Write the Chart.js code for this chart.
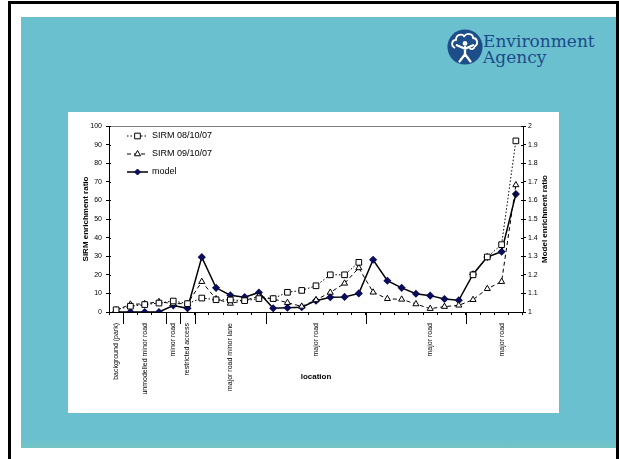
<!DOCTYPE html>
<html>
<head>
<meta charset="utf-8">
<script src="https://cdn.jsdelivr.net/npm/chart.js@4/dist/chart.umd.min.js"></script>
<style>
  html, body { margin: 0; padding: 0; background: #fff; }
  #page { position: relative; width: 619px; height: 459px; overflow: hidden; background: #fff; }
  #frame { position: absolute; left: 8px; top: 1px; width: 611px; height: 480px; border: 3px solid #000; box-sizing: border-box; }
  #slide { position: absolute; left: 21px; top: 17px; width: 595px; height: 431px; background: #6bc0d0; }
  #slide .foot { position: absolute; left: 0; right: 0; bottom: 0; height: 10px; background: linear-gradient(#6bc0d0, #74c4c4); }
  #box { position: absolute; left: 68px; top: 112px; width: 491px; height: 301px; background: #fff; }
  #logo { position: absolute; left: 447px; top: 28px; }
  #brand { position: absolute; left: 483px; top: 33px; font: 17px "DejaVu Serif", serif; line-height: 16px; color: #1b4b88; }
</style>
</head>
<body>
<div id="page">
  <div id="frame"></div>
  <div id="slide"><div class="foot"></div></div>
  <svg id="logo" width="36" height="38" viewBox="0 0 40 42">
    <circle cx="20" cy="21" r="19.5" fill="#1d4e89"/>
    <path d="M9 22 C4 20 5 13 10 13 C10 7 17 6 19 9 C22 5 29 6 29 11 C34 11 35 18 31 20 C30 24 26 24 25 22"
          fill="none" stroke="#fff" stroke-width="2"/>
    <circle cx="20" cy="17" r="2.6" fill="#fff"/>
    <path d="M11 19 L20 23 L29 19 M20 21 L20 29 M20 29 L14 37 M20 29 L26 37" fill="none" stroke="#fff" stroke-width="2.6" stroke-linecap="round"/>
  </svg>
  <div id="brand">Environment<br>Agency</div>
  <div id="box"><canvas id="lineChart" width="491" height="301"></canvas></div>
</div>
<script>
// location names, shown only at the middle of each stretch of road
const locations = ['background (park)', '', 'unmodelled minor road', '', 'minor road', 'restricted access',
  '', '', 'major road minor lane', '', '', '', '', '', 'major road', '', '', '', '', '', '', '', 'major road',
  '', '', '', '', 'major road', ''];

// index after which a long separator tick is drawn under the axis
const groupEnds = [1, 4, 5, 6, 11, 18, 25];

const sirm081007 = [1.2, 3.1, 4.0, 4.8, 5.9, 4.5, 7.5, 6.6, 6.5, 6.1, 7.2, 7.2, 10.6, 11.6, 14.1, 20.0, 20.0, 26.7,
  null, null, null, null, null, null, null, 20.0, 29.6, 36.2, 92.0];
const sirm091007 = [1.0, 4.1, 4.4, 5.5, 4.5, 4.5, 16.3, 7.0, 4.6, 6.2, 8.5, 7.0, 5.0, 3.0, 6.5, 10.5, 15.4, 23.7,
  10.6, 7.1, 6.8, 4.3, 1.8, 2.9, 3.6, 6.6, 12.5, 16.3, 68.3];
const modelRatio = [1.0, 1.0, 1.0, 1.0, 1.035, 1.02, 1.295, 1.13, 1.09, 1.08, 1.105, 1.02, 1.023, 1.026, 1.061, 1.079,
  1.081, 1.10, 1.281, 1.168, 1.13, 1.098, 1.088, 1.07, 1.063, 1.203, 1.296, 1.324, 1.634];

const sirmTicks = { min: 0, max: 100, step: 10 };
const modelTicks = { min: 1, max: 2, step: 0.1 };

const font = 'Arial, "Liberation Sans", sans-serif';
const navy = '#0c0c5c';

function marker(ctx, style, x, y, r, fill, stroke) {
  ctx.beginPath();
  if (style === 'rect') {
    const h = r * Math.SQRT1_2;
    ctx.rect(x - h, y - h, 2 * h, 2 * h);
  } else if (style === 'triangle') {
    ctx.moveTo(x, y - r);
    ctx.lineTo(x + r * 0.866, y + r * 0.5);
    ctx.lineTo(x - r * 0.866, y + r * 0.5);
    ctx.closePath();
  } else {
    ctx.moveTo(x, y - r);
    ctx.lineTo(x + r, y);
    ctx.lineTo(x, y + r);
    ctx.lineTo(x - r, y);
    ctx.closePath();
  }
  ctx.fillStyle = fill;
  ctx.fill();
  ctx.setLineDash([]);
  ctx.lineWidth = 1;
  ctx.strokeStyle = stroke;
  ctx.stroke();
}

// legend, axis titles, plot top line, inner tick stubs and the long group ticks
const extras = {
  id: 'extras',
  afterDraw(chart) {
    const ctx = chart.ctx;
    const area = chart.chartArea;
    const x = chart.scales.x;
    ctx.save();

    ctx.strokeStyle = '#808080';
    ctx.lineWidth = 1;
    ctx.beginPath();
    ctx.moveTo(area.left, Math.round(area.top) + 0.5);
    ctx.lineTo(area.right, Math.round(area.top) + 0.5);
    ctx.stroke();

    ctx.strokeStyle = '#000';
    groupEnds.forEach(i => {
      const px = Math.round((x.getPixelForValue(i - 1) + x.getPixelForValue(i)) / 2) + 0.5;
      ctx.beginPath();
      ctx.moveTo(px, area.bottom);
      ctx.lineTo(px, area.bottom + 12);
      ctx.stroke();
    });
    ['y', 'y1'].forEach(id => {
      const s = chart.scales[id];
      const edge = id === 'y' ? area.left : area.right;
      const dir = id === 'y' ? 1 : -1;
      s.ticks.forEach(t => {
        const py = Math.round(s.getPixelForValue(t.value)) + 0.5;
        ctx.beginPath();
        ctx.moveTo(edge, py);
        ctx.lineTo(edge + dir * 2, py);
        ctx.stroke();
      });
    });

    ctx.fillStyle = '#000';
    ctx.font = 'bold 8px ' + font;
    ctx.textAlign = 'center';
    ctx.textBaseline = 'middle';
    ctx.fillText('location', (area.left + area.right) / 2, 265);
    ctx.save();
    ctx.translate(18, (area.top + area.bottom) / 2);
    ctx.rotate(-Math.PI / 2);
    ctx.fillText('SIRM enrichment ratio', 0, 0);
    ctx.restore();
    ctx.save();
    ctx.translate(477, (area.top + area.bottom) / 2);
    ctx.rotate(-Math.PI / 2);
    ctx.fillText('Model enrichment ratio', 0, 0);
    ctx.restore();

    ctx.font = '9px ' + font;
    ctx.textAlign = 'left';
    chart.data.datasets.forEach((ds, i) => {
      const y = 24 + i * 18;
      ctx.strokeStyle = ds.borderColor;
      ctx.lineWidth = ds.borderWidth;
      ctx.setLineDash(ds.borderDash || []);
      ctx.beginPath();
      ctx.moveTo(59, y);
      ctx.lineTo(80, y);
      ctx.stroke();
      marker(ctx, ds.pointStyle, 69.5, y, ds.pointRadius, ds.pointBackgroundColor, ds.pointBorderColor);
      ctx.fillStyle = '#000';
      ctx.fillText(ds.label, 84, y);
    });
    ctx.restore();
  }
};

const chat = document.getElementById('lineChart');
const lineChart = new Chart(chat, {
  type: 'line',
  data: {
    labels: locations,
    datasets: [{
      label: 'SIRM 08/10/07',
      data: sirm081007,
      yAxisID: 'y',
      borderColor: '#000',
      borderWidth: 1,
      borderDash: [1.5, 2],
      pointStyle: 'rect',
      pointRadius: 4,
      pointBackgroundColor: '#fff',
      pointBorderColor: '#000',
      pointBorderWidth: 1,
      spanGaps: false
    }, {
      label: 'SIRM 09/10/07',
      data: sirm091007,
      yAxisID: 'y',
      borderColor: '#000',
      borderWidth: 1,
      borderDash: [4, 3],
      pointStyle: 'triangle',
      pointRadius: 3.5,
      pointBackgroundColor: '#fff',
      pointBorderColor: '#000',
      pointBorderWidth: 1
    }, {
      label: 'model',
      data: modelRatio,
      yAxisID: 'y1',
      borderColor: '#000',
      borderWidth: 1.5,
      pointStyle: 'rectRot',
      pointRadius: 3,
      pointBackgroundColor: navy,
      pointBorderColor: navy
    }]
  },
  options: {
    responsive: false,
    animation: false,
    events: [],
    layout: { padding: { top: 14, left: 0, right: 0, bottom: 0 } },
    elements: { line: { tension: 0 } },
    plugins: { legend: { display: false }, tooltip: { enabled: false } },
    scales: {
      x: {
        offset: true,
        afterFit(s) { s.height = 101; },
        grid: { offset: true, drawOnChartArea: false, tickLength: 3, color: '#000' },
        border: { color: '#000' },
        ticks: { autoSkip: false, minRotation: 90, maxRotation: 90, padding: 8, color: '#000',
          font: { family: font, size: 7 } }
      },
      y: {
        position: 'left',
        min: sirmTicks.min,
        max: sirmTicks.max,
        afterFit(s) { s.width = 41; },
        grid: { drawOnChartArea: false, tickLength: 3, color: '#000' },
        border: { color: '#000' },
        ticks: { stepSize: sirmTicks.step, padding: 4, color: '#000', font: { family: font, size: 7 } }
      },
      y1: {
        position: 'right',
        min: modelTicks.min,
        max: modelTicks.max,
        afterFit(s) { s.width = 36; },
        grid: { drawOnChartArea: false, tickLength: 3, color: '#000' },
        border: { color: '#000' },
        ticks: { stepSize: modelTicks.step, padding: 2, color: '#000', font: { family: font, size: 7 },
          callback: v => String(Math.round(v * 10) / 10) }
      }
    }
  },
  plugins: [extras]
});
</script>
</body>
</html>
